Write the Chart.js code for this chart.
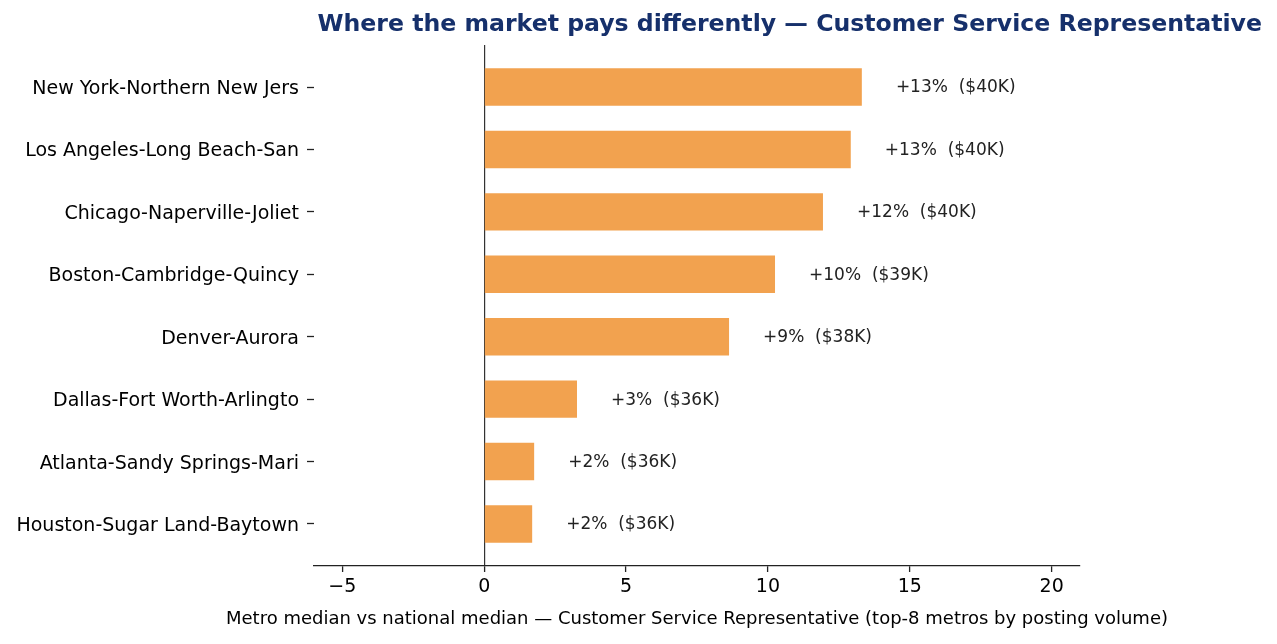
<!DOCTYPE html>
<html>
<head>
<meta charset="utf-8">
<script src="https://cdn.jsdelivr.net/npm/chart.js@4.4.0/dist/chart.umd.min.js"></script>
<style>
  html, body { margin: 0; padding: 0; background: #fff; }
  #wrap { width: 1277px; height: 644px; }
</style>
</head>
<body>
<div id="wrap"><canvas id="c" width="1277" height="644"></canvas></div>
<script>
const categories = [
  "New York-Northern New Jers",
  "Los Angeles-Long Beach-San",
  "Chicago-Naperville-Joliet",
  "Boston-Cambridge-Quincy",
  "Denver-Aurora",
  "Dallas-Fort Worth-Arlingto",
  "Atlanta-Sandy Springs-Mari",
  "Houston-Sugar Land-Baytown"
];
const values = [13.31, 12.92, 11.94, 10.25, 8.63, 3.27, 1.76, 1.69];
const valueLabels = [
  "+13%  ($40K)", "+13%  ($40K)", "+12%  ($40K)", "+10%  ($39K)",
  "+9%  ($38K)", "+3%  ($36K)", "+2%  ($36K)", "+2%  ($36K)"
];
const xTicks = [-5, 0, 5, 10, 15, 20];
const titleText = "Where the market pays differently \u2014 Customer Service Representative";
const xTitle = "Metro median vs national median \u2014 Customer Service Representative (top-8 metros by posting volume)";

const FONT = "'DejaVu Sans', sans-serif";

const labelPlugin = {
  id: 'valueLabels',
  afterDatasetsDraw(chart) {
    const ctx = chart.ctx;
    const xs = chart.scales.x, ys = chart.scales.y;
    ctx.save();
    ctx.font = "17px " + FONT;
    ctx.fillStyle = "#222";
    ctx.textAlign = "left";
    ctx.textBaseline = "middle";
    values.forEach((v, i) => {
      ctx.fillText(valueLabels[i], xs.getPixelForValue(v + 1.2), ys.getPixelForValue(i) + 1);
    });
    ctx.restore();
  }
};

const titlePlugin = {
  id: 'customTitle',
  afterDraw(chart) {
    const ctx = chart.ctx;
    const a = chart.chartArea;
    ctx.save();
    ctx.font = "bold 23.6px " + FONT;
    ctx.fillStyle = "#16306b";
    ctx.textAlign = "right";
    ctx.textBaseline = "middle";
    ctx.fillText(titleText, 1262, 25);
    ctx.font = "18px " + FONT;
    ctx.fillStyle = "#000";
    ctx.textAlign = "center";
    ctx.fillText(xTitle, (a.left + a.right) / 2, 619);
    ctx.restore();
  }
};

new Chart(document.getElementById('c'), {
  type: 'bar',
  data: {
    datasets: [{
      data: values.map((v, i) => ({ x: v, y: i })),
      backgroundColor: '#F2A24F',
      borderWidth: 0,
      barPercentage: 0.6,
      categoryPercentage: 1
    }]
  },
  options: {
    indexAxis: 'y',
    responsive: false,
    animation: false,
    devicePixelRatio: 1,
    layout: { padding: { left: 0, right: 197, top: 45, bottom: 0 } },
    plugins: { legend: { display: false }, tooltip: { enabled: false }, title: { display: false } },
    scales: {
      x: {
        type: 'linear',
        min: -6, max: 21,
        offset: false,
        afterBuildTicks: s => { s.ticks = xTicks.map(v => ({ value: v })); },
        afterFit: s => { s.height = 78; },
        ticks: {
          font: { family: FONT, size: 19 },
          color: '#000',
          padding: 4,
          maxRotation: 0,
          callback: v => v < 0 ? '\u2212' + Math.abs(v) : String(v)
        },
        grid: {
          offset: false,
          color: c => (c.tick && c.tick.value === 0) ? '#333' : 'rgba(0,0,0,0)',
          lineWidth: 1.2,
          tickColor: '#222',
          tickWidth: 1.3,
          tickLength: 6,
          drawTicks: true
        },
        border: { display: true, color: '#222', width: 1.3 }
      },
      y: {
        type: 'linear',
        reverse: true,
        offset: false,
        min: -0.673, max: 7.673,
        afterBuildTicks: s => { s.ticks = categories.map((c, i) => ({ value: i })); },
        afterFit: s => { s.width = 314; },
        ticks: {
          font: { family: FONT, size: 19 },
          color: '#000',
          padding: 8,
          labelOffset: 2,
          callback: v => categories[v]
        },
        grid: {
          offset: false,
          color: 'rgba(0,0,0,0)',
          drawOnChartArea: false,
          tickColor: '#222',
          tickWidth: 1.3,
          tickLength: 7
        },
        border: { display: false }
      }
    }
  },
  plugins: [labelPlugin, titlePlugin]
});
</script>
</body>
</html>
